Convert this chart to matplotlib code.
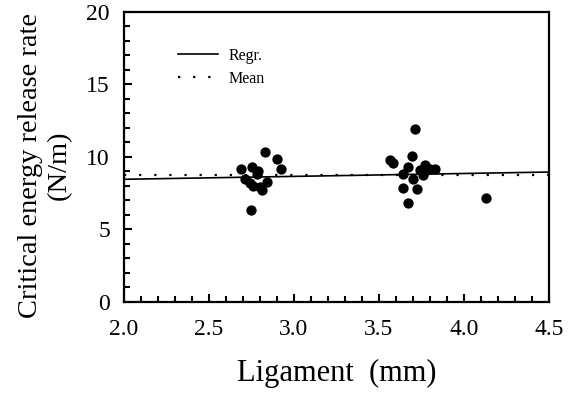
import matplotlib
matplotlib.use("Agg")
import matplotlib.pyplot as plt
from matplotlib.ticker import MultipleLocator

plt.rcParams['font.family'] = ['Liberation Serif', 'DejaVu Serif']

# Data
ligament = [2.69, 2.755, 2.79, 2.83, 2.90, 2.925, 2.71, 2.76, 2.81, 2.84, 2.745, 2.785, 2.80, 2.74,
            3.712, 3.565, 3.584, 3.692, 3.672, 3.643, 3.702, 3.643, 3.722, 3.672, 3.741, 3.771,
            3.761, 3.80, 3.829, 4.129]
energy = [9.2, 9.3, 9.0, 10.35, 9.85, 9.2, 8.45, 8.0, 7.75, 8.3, 6.35, 8.85, 7.9, 8.2,
          11.93, 9.79, 9.61, 10.07, 9.29, 8.81, 8.48, 7.88, 7.77, 6.81, 9.10, 9.45,
          8.76, 9.15, 9.15, 7.19]
regr_intercept = 8.06
regr_slope = 0.20
mean_value = 8.75
x_range = [2.0, 4.5]

fig = plt.figure(figsize=(5.76, 3.97), dpi=100)
ax = fig.add_axes([0.215, 0.2393, 0.738, 0.7307])

ax.scatter(ligament, energy, s=55, color='black', zorder=3, linewidths=0)
ax.plot(x_range, [regr_intercept + regr_slope * x for x in x_range], color='black', lw=1.2,
        label='Regr.')
ax.plot(x_range, [mean_value, mean_value], color='black', lw=1.6, linestyle=(0, (1, 5.8)),
        label='Mean')

ax.set_xlim(2.0, 4.5)
ax.set_ylim(0, 20)
ax.xaxis.set_major_locator(MultipleLocator(0.5))
ax.xaxis.set_minor_locator(MultipleLocator(0.1))
ax.yaxis.set_major_locator(MultipleLocator(5))
ax.yaxis.set_minor_locator(MultipleLocator(1))
ax.xaxis.set_major_formatter(plt.FuncFormatter(lambda v, p: f"{v:.1f}"))
ax.yaxis.set_major_formatter(plt.FuncFormatter(lambda v, p: f"{v:.0f}"))

for s in ax.spines.values():
    s.set_linewidth(1.6)
ax.tick_params(which='major', direction='in', length=6, width=1.5, labelsize=17, pad=10)
ax.tick_params(which='minor', direction='in', length=4, width=1.5)
ax.tick_params(axis='x', which='major', pad=12)

ax.set_xlabel('Ligament  (mm)', fontsize=22, labelpad=14)
ax.set_ylabel('Critical energy release rate\n(N/m)', fontsize=20.5, linespacing=1.2)
ax.yaxis.set_label_coords(-0.122, 0.47)

leg = ax.legend(loc='upper left', bbox_to_anchor=(0.127, 0.876), frameon=False, fontsize=11.5,
                handlelength=2.5, handletextpad=0.7, labelspacing=0.45,
                borderpad=0, borderaxespad=0)

fig.savefig('out.png', dpi=100)
